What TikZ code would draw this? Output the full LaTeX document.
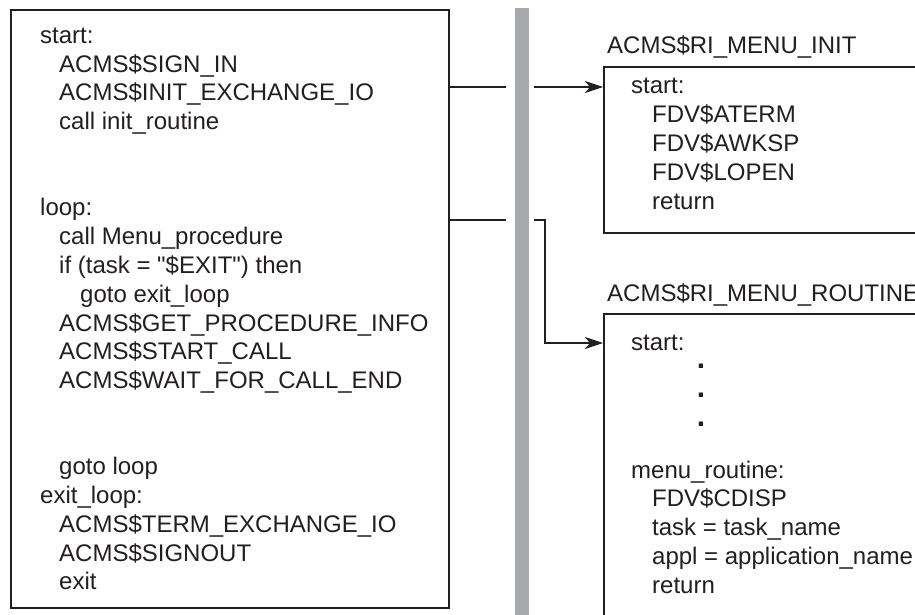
\documentclass[tikz,border=0pt]{standalone}
\usepackage{fontspec}
\setmainfont{Liberation Sans}[Ligatures=TeXOff]
\usetikzlibrary{arrows.meta}
\definecolor{ink}{HTML}{231F20}
\definecolor{bargray}{HTML}{A7A9AC}
\tikzset{
  code/.style={anchor=base west, inner sep=0pt, font=\fontsize{24}{28}\selectfont, text=ink},
  frame/.style={draw=ink, line width=1.8pt, fill=white, anchor=north west, inner sep=0pt},
  link/.style={draw=ink, line width=1.1pt},
  tip/.style={-{Stealth[length=18pt,width=12pt,inset=5pt]}},
}
\begin{document}
\begin{tikzpicture}[x=1pt,y=-1pt]
\clip (0,0) rectangle (915,615);
\fill[white] (0,0) rectangle (915,615);
% boxes and bar
\node[frame, minimum width=438pt, minimum height=598pt] (main) at (10,9) {};
\node[fill=bargray, anchor=north west, minimum width=14pt, minimum height=620pt, inner sep=0pt] (bar) at (515,8) {};
\node[frame, minimum width=340pt, minimum height=166pt] (init) at (603,66) {};
\node[frame, minimum width=340pt, minimum height=340pt] (menu) at (603,313) {};
% main program text
\foreach \x/\y/\t [count=\i] in {
  40/43.3/start:,
  59/72.1/ACMS\$SIGN\_IN,
  59/100.8/ACMS\$INIT\_EXCHANGE\_IO,
  59/129.6/call init\_routine,
  40/215.9/loop:,
  59/244.7/call Menu\_procedure,
  59/273.5/if (task = "\$EXIT") then,
  80/302.2/goto exit\_loop,
  59/331.0/ACMS\$GET\_PROCEDURE\_INFO,
  59/359.8/ACMS\$START\_CALL,
  59/388.5/ACMS\$WAIT\_FOR\_CALL\_END,
  59/474.9/goto loop,
  40/503.6/exit\_loop:,
  59/532.4/ACMS\$TERM\_EXCHANGE\_IO,
  59/561.2/ACMS\$SIGNOUT,
  59/589.9/exit}
  \node[code] (m\i) at (\x,\y) {\t};
% titles
\node[code] (t1) at (607,54) {ACMS\$RI\_MENU\_INIT};
\node[code] (t2) at (607,301.5) {ACMS\$RI\_MENU\_ROUTINE};
% init routine text
\foreach \x/\y/\t [count=\i] in {
  631/94/start:,
  652/122.7/FDV\$ATERM,
  652/151.4/FDV\$AWKSP,
  652/180.2/FDV\$LOPEN,
  652/209/return}
  \node[code] (r\i) at (\x,\y) {\t};
% menu routine text
\foreach \x/\y/\t [count=\i] in {
  631/350/start:,
  631/478/menu\_routine:,
  652/506.8/FDV\$CDISP,
  652/535.5/task = task\_name,
  652/564.2/appl = application\_name,
  652/593/return}
  \node[code] (s\i) at (\x,\y) {\t};
\foreach \y [count=\i] in {368.5,397.5,426}
  \node[code, anchor=base, font=\fontsize{30}{30}\bfseries\selectfont] (dot\i) at (701,\y) {.};
% connectors
\coordinate (a1) at (506,87);
\coordinate (a2) at (534,87);
\draw[link] (main.east |- a1) -- (a1);
\draw[link,tip] (a2) -- (init.west |- a2);
\coordinate (b1) at (506,220);
\coordinate (b2) at (534,220);
\coordinate (bend) at (545,343);
\draw[link] (main.east |- b1) -- (b1);
\draw[link,tip] (b2) -| (bend) -- (menu.west |- bend);
\end{tikzpicture}
\end{document}
